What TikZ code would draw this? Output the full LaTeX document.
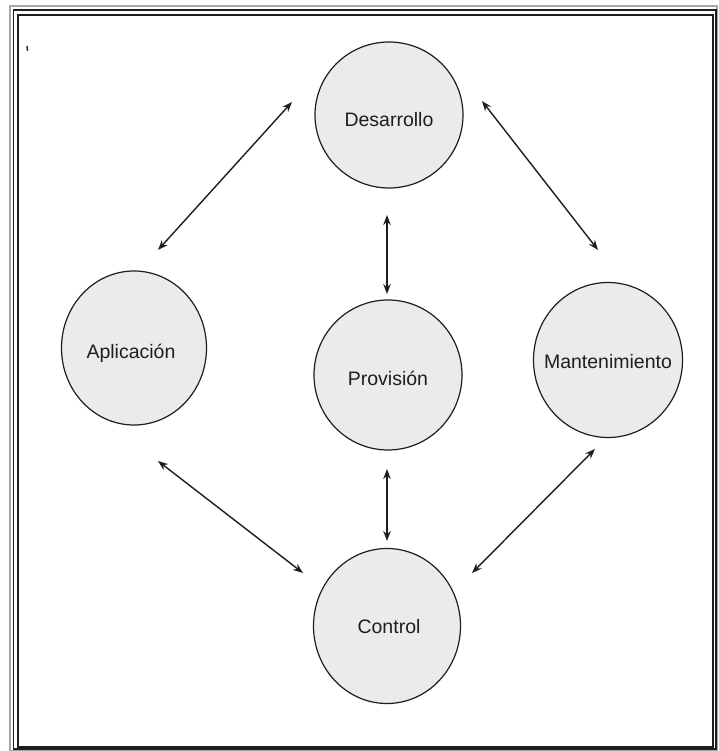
\documentclass[tikz,border=0pt]{standalone}
\usepackage{fontspec}
\setmainfont{Liberation Sans}
\usetikzlibrary{arrows.meta,shapes.geometric}
\definecolor{fillgray}{HTML}{EBEBEB}
\definecolor{ink}{HTML}{1E1E1E}
\begin{document}
\begin{tikzpicture}[x=1pt,y=-1pt,
  bubble/.style={ellipse,draw=ink,line width=1.2pt,fill=fillgray,inner sep=0pt,
    text=ink,font=\fontsize{19}{22}\selectfont},
  lbl/.style={text=ink,font=\fontsize{19.5}{22}\selectfont},
  link/.style={draw=ink,line width=1.4pt,{Stealth[length=10pt,width=7.5pt]}-{Stealth[length=10pt,width=7.5pt]}}]
\useasboundingbox (0,0) rectangle (718,751);
\fill[white] (0,0) rectangle (718,751);
% frame
\draw[gray!70,line width=1.2pt] (10,6) rectangle (717,751);
\draw[ink,line width=1.3pt] (13.5,10) rectangle (716,749);
\draw[ink,line width=2pt] (18,15) rectangle (713,747);
\draw[ink,line width=1.3pt] (27,46) -- (27.5,51);
% circles
\node[bubble,minimum width=148pt,minimum height=146pt] (des) at (389,115) {};
\node[bubble,minimum width=145pt,minimum height=154pt] (apl) at (134,348) {};
\node[bubble,minimum width=148pt,minimum height=150pt] (pro) at (388,375) {};
\node[bubble,minimum width=149pt,minimum height=155pt] (man) at (608,360) {};
\node[bubble,minimum width=147pt,minimum height=155pt] (con) at (387,626) {};
% labels
\node[lbl] (tdes) at (389,120) {Desarrollo};
\node[lbl] (tapl) at (131,353) {Aplicación};
\node[lbl] (tpro) at (388,378) {Provisión};
\node[lbl] (tman) at (608,362) {Mantenimiento};
\node[lbl] (tcon) at (389,627) {Control};
% connector ends
\coordinate (da1) at (292,102);
\coordinate (da2) at (158,250);
\coordinate (dm1) at (482,101);
\coordinate (dm2) at (598,250);
\coordinate (dp1) at (387,215);
\coordinate (dp2) at (387,294);
\coordinate (pc1) at (387,469);
\coordinate (pc2) at (387,541);
\coordinate (ac1) at (158,461);
\coordinate (ac2) at (303,573);
\coordinate (mc1) at (595,449);
\coordinate (mc2) at (472,573);
\draw[link] (da1) -- (da2);
\draw[link] (dm1) -- (dm2);
\draw[link] (dp1) -- (dp2);
\draw[link] (pc1) -- (pc2);
\draw[link] (ac1) -- (ac2);
\draw[link] (mc1) -- (mc2);
\end{tikzpicture}
\end{document}
